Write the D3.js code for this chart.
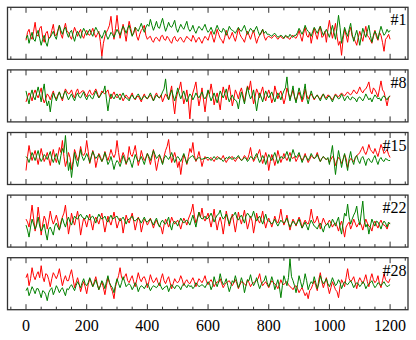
<!DOCTYPE html>
<html><head><meta charset="utf-8">
<script src="https://cdn.jsdelivr.net/npm/d3@7"></script>
<style>html,body{margin:0;padding:0;background:#fff;}svg{display:block;}</style>
</head><body>
<svg id="c" width="416" height="340"></svg>
<script>
const xStep = 5;
const panelLabels = ["#1", "#8", "#15", "#22", "#28"];
const xTickLabels = [0, 200, 400, 600, 800, 1000, 1200];

const red1 = [-7,1,4,-3,-6,2,11,-1,-3,5,7,-4,-9,0,2,-5,-4,3,9,-2,
-2,3,8,-1,-5,4,10,2,1,-3,-6,0,6,2,-3,1,4,-2,-5,0,
3,-1,-2,1,5,0,-4,-1,2,-8,-23,-10,-3,1,4,8,17,3,-6,5,
18,4,-5,2,9,1,-8,3,12,5,-2,0,6,-3,-7,-1,3,5,8,-2,
-6,-4,-3,-7,-9,-5,-4,-6,-8,-3,-2,-6,-7,-3,-5,-8,-10,-5,-3,-7,
-8,-5,-4,-7,-9,-6,-3,-5,-6,-8,-2,-5,-9,-6,-4,-7,-10,-6,-3,-5,
-7,-2,2,-4,-9,-3,4,-1,-5,-7,-10,-4,3,-2,-6,-3,1,-4,-8,-2,
5,-1,-4,-6,-9,-3,2,-2,-6,-1,3,-4,-10,-5,-2,0,4,-3,-7,-4,
-3,-4,-5,-3,-2,-4,-6,-4,-3,-5,-5,-3,-4,-5,-6,-3,-2,-4,-5,-2,
3,-3,-8,0,6,-2,-4,1,-10,-2,5,-1,-6,2,7,-4,-3,2,-9,4,
13,3,-5,2,10,-3,-12,-8,-22,-6,4,-2,-9,1,6,-3,-5,-8,-12,-4,
2,-3,-8,0,7,-2,-4,-7,-10,-2,3,-4,-7,1,-2,-9,-18,-6,-4,-1,-6];
const green1 = [-5,-2,-10,-4,1,-6,-8,-1,3,-5,-12,-6,-2,-9,-13,-5,-4,-1,2,-3,
-6,2,8,3,-1,4,6,0,-4,1,3,-3,-8,-2,2,-1,-5,1,5,2,
-2,1,4,0,-3,2,6,3,0,-2,-5,-1,3,-2,-6,-3,1,-1,-4,0,
4,1,-2,3,7,4,0,5,8,2,-3,1,6,4,2,6,10,5,1,6,
9,7,14,8,3,7,12,6,5,10,15,8,2,6,11,7,6,9,13,5,
1,5,9,6,4,8,12,5,2,4,8,3,0,4,7,5,3,6,9,4,
1,3,6,2,-1,4,8,4,2,1,5,3,-2,2,7,4,3,2,0,3,
6,3,2,5,8,3,-1,2,5,3,1,4,7,2,-2,1,4,0,2,-1,
-1,-2,-3,-1,0,-2,-4,-3,-2,-3,-5,-2,-3,-4,-1,-3,-4,-2,-2,1,
5,2,-1,3,8,4,2,0,-3,2,6,3,0,4,7,2,-2,1,4,0,
-4,2,8,1,-6,5,18,6,-10,-2,6,1,-3,4,10,-1,-8,-2,3,-4,
-12,-3,5,0,-4,2,8,-2,-9,-3,2,-1,-6,1,7,2,-2,0,4,1,3];

const red2 = [-6,-1,3,0,-5,2,6,1,-2,3,8,-2,-7,-3,2,0,-4,1,5,-1,
-3,1,4,-1,-5,2,7,4,2,3,6,1,-2,4,7,2,3,5,5,2,
-1,3,6,2,1,4,7,3,-2,1,5,3,2,4,6,0,-3,1,4,0,
-2,0,2,-1,-5,-2,1,-1,-3,0,3,-2,-4,-1,0,-3,-6,-1,2,-2,
-3,-1,1,-2,-5,0,3,-1,-2,1,-6,-2,2,-1,-4,3,10,-6,-18,-3,
4,7,14,2,-8,-2,6,-5,-23,-4,3,8,14,1,-10,-2,8,-4,-16,-3,
5,2,12,3,-9,-2,3,-5,-14,0,9,2,-4,4,11,1,-10,-3,6,2,
-3,4,8,1,-6,3,10,6,15,2,-8,-1,7,3,-2,4,9,0,-5,1,
6,1,-7,-2,10,4,-3,2,5,-1,-8,-2,8,3,-2,1,6,-1,-5,0,
4,-1,-6,-2,7,1,-3,0,2,-1,-4,-1,1,-2,-3,0,2,-1,-2,1,
0,-2,-4,-1,2,0,-1,1,3,1,0,2,4,2,1,3,6,4,2,5,
9,5,3,6,7,10,14,5,2,8,6,3,-1,7,15,6,4,-3,-10,-2,0];
const green2 = [5,-2,-8,1,6,-1,-4,3,9,2,-6,4,12,-3,-10,-5,-16,-4,3,-1,
-5,0,4,-1,-3,2,5,0,-4,-1,2,-2,-5,0,3,-1,-2,1,4,-1,
-4,0,1,-2,-3,1,5,1,-2,0,3,4,10,-3,-15,-4,2,-1,-3,0,
2,-1,-4,0,3,-1,-2,-3,-5,-1,1,-2,-3,0,2,-1,-4,-2,0,-1,
-3,0,3,-1,-5,-2,1,-1,-2,0,4,7,17,2,-4,1,6,0,-5,1,
8,2,-3,1,5,-1,-6,-2,2,0,-4,-1,3,0,-2,1,4,-1,-3,0,
6,0,-5,-1,3,-2,-7,-1,5,1,-2,2,7,-1,-6,-2,1,-3,-4,-6,
-13,-3,4,-2,-8,1,9,2,-3,0,6,-4,-15,-5,3,-1,-6,0,5,1,
-2,1,4,-1,-6,-1,3,0,-4,1,5,8,19,3,-5,2,10,-1,-7,1,
8,2,-4,3,12,-2,-8,-1,5,0,-3,-1,1,-2,-5,-1,2,-2,-4,-1,
0,-3,-6,-2,1,-1,-3,-2,2,-1,-5,-2,0,-3,-4,-1,-2,-3,-6,-2,
-1,-3,-5,-2,2,-1,-4,-2,-6,-2,1,-1,-3,-2,-5,-1,0,-2,-4,-1,0];

const red3 = [-12,2,13,4,-2,3,8,1,-6,2,10,3,-3,1,6,0,-7,2,9,1,
-4,3,11,6,18,2,-8,-2,6,1,-11,-3,9,4,-2,2,12,5,3,6,
18,7,-5,1,8,3,-9,-2,5,2,-3,0,7,2,-2,3,9,4,1,5,
18,6,-4,1,6,2,-6,0,12,4,2,7,13,3,-7,-1,8,2,-2,1,
5,0,-6,1,9,-2,-12,-4,3,0,-5,2,8,12,19,5,-4,1,6,0,
-9,-3,-16,-5,4,0,-6,2,10,6,16,3,-3,1,7,0,-8,-2,2,0,
-2,0,1,-1,-3,0,2,1,-1,0,3,-1,-4,-1,0,1,2,-1,-3,0,
1,0,-2,0,3,1,-1,4,11,2,-3,0,2,5,9,1,-5,0,6,1,
-12,-3,4,0,-7,-1,8,2,-4,0,5,1,-2,2,6,1,0,2,-3,0,
4,1,-2,1,5,0,-4,-1,3,1,0,2,6,1,-3,0,2,0,-1,0,
-4,-1,2,0,-7,-2,1,-1,-5,-1,4,0,-9,-3,0,-1,-3,0,3,4,
6,9,12,7,4,8,14,9,7,5,10,6,2,8,14,10,5,7,9,4,1];
const green3 = [2,0,-4,1,6,2,-2,3,8,1,-3,0,4,2,-1,3,7,0,-4,1,
5,-1,-6,3,10,6,23,4,-12,-4,-19,-6,6,-2,-8,1,9,2,-2,1,
5,1,-4,2,7,3,0,2,4,0,-3,1,6,0,-6,-3,2,-4,-11,-5,
-2,-4,-8,-3,3,-1,-5,-2,1,-4,-9,-2,4,0,-3,-1,2,-2,-6,0,
5,2,-2,3,8,4,0,2,4,-1,-6,0,3,1,-1,2,6,1,-4,0,
2,0,-3,1,5,0,-5,-1,1,2,3,0,-2,0,1,0,-1,0,0,1,
1,0,-2,0,2,0,-1,1,0,-1,-3,-1,1,0,2,0,-1,1,0,1,
3,0,-2,-1,1,0,-3,-1,2,1,-1,2,5,0,-4,-1,3,0,-6,-1,
4,1,-2,2,6,1,-5,-1,2,1,0,3,7,2,-3,3,9,4,1,3,
6,1,-4,0,3,1,-2,1,5,2,0,1,4,0,-3,0,2,0,-1,1,
-6,4,13,-2,-16,-3,8,0,-9,-1,5,-4,-12,0,7,-2,-6,1,3,-2,
-5,0,2,-2,-7,-1,0,-3,-4,0,3,-2,-6,-1,1,-2,-3,0,-1,-2,-2];

const red4 = [2,-1,-6,4,16,3,-10,-2,14,2,-14,-3,5,1,-8,0,10,2,-3,1,
6,0,-9,-1,4,8,16,2,-13,-4,8,1,-4,3,10,0,-14,-5,3,0,
-6,1,7,-2,-9,0,4,1,-3,3,8,-2,-11,-3,5,0,-4,2,9,1,
-7,-2,3,0,-12,-3,6,1,-2,3,8,0,-9,-2,4,0,-11,-4,2,0,
-4,-1,3,-2,-7,-2,1,-3,-5,-6,-13,-4,2,-1,-6,-2,4,0,-3,-1,
1,-3,-8,-2,3,0,-4,2,6,10,17,5,-2,3,9,4,13,3,0,4,
8,1,-6,2,12,0,-9,-1,4,-3,-13,-2,10,3,-5,1,7,-2,-11,-1,
9,2,-3,4,11,1,-8,-2,5,0,-12,-3,8,1,-2,3,10,0,-7,-1,
3,-1,-6,-1,5,0,-2,3,12,2,-4,0,6,-2,-9,-3,2,-1,-5,0,
4,0,-7,-2,1,-2,-3,2,12,3,-2,0,5,-1,-8,-2,3,-1,-4,-2,
1,-2,-6,-3,-2,-5,-10,-4,0,-7,-16,-6,-3,-1,-8,-4,2,-2,-6,-3,
-1,-4,-9,-3,2,-2,-5,-6,-10,-3,0,-4,-7,-2,1,-3,-4,-5,-8,-3,-2];
const green4 = [-4,-9,-16,-6,2,-3,-8,-4,4,-5,-10,-7,-3,-12,-19,-8,-6,-10,-14,-5,
-2,-6,-9,-3,3,-2,-6,0,4,-1,-4,1,5,3,2,5,7,4,3,2,
6,3,1,4,5,2,-2,3,7,4,2,3,5,1,-1,3,6,2,3,4,
5,2,0,2,4,1,-3,1,2,3,5,1,0,2,3,1,-2,1,4,0,
-1,1,2,-1,-4,0,3,-2,-6,-1,1,-2,-3,0,4,-4,-9,-2,0,-2,
-5,-1,3,0,-2,0,1,-1,-4,1,6,0,-6,2,9,4,2,3,5,2,
3,5,8,4,-1,3,6,7,11,5,2,4,7,2,-3,3,5,6,9,3,
1,4,6,2,-2,5,8,6,3,5,10,4,0,3,5,1,-3,2,7,1,
0,-1,-3,-1,2,-2,-5,-2,1,-1,-2,0,3,-2,-6,-3,0,-2,-4,-1,
2,-3,-7,-4,-1,-5,-9,-3,1,-2,-5,-6,-8,-4,-2,-7,-11,-5,-4,-2,
-7,-3,2,-1,-5,0,4,-6,-13,-2,8,5,17,4,-3,2,6,9,15,3,
-4,8,20,1,-6,-3,-13,-5,2,-2,-5,0,-1,-4,-8,-3,0,-2,-6,-1,-3];

const red5 = [6,10,-2,5,16,8,4,9,12,6,18,7,2,10,9,4,-3,5,11,8,
5,9,15,6,-2,4,8,3,3,9,14,5,-4,1,6,0,-8,-2,2,-3,
-10,-1,5,1,-3,2,7,0,-6,-2,2,-4,-11,-2,6,1,-4,-8,-15,-3,
3,8,16,6,4,7,10,3,1,5,8,2,-3,4,11,5,2,6,7,3,
-4,2,9,4,1,3,6,1,-2,5,10,3,0,4,7,1,-5,0,5,2,
1,3,8,4,-2,2,4,1,0,3,6,2,-3,1,5,3,1,4,8,2,
-1,2,4,1,-3,0,2,1,5,0,-4,-1,1,2,3,0,-2,1,4,0,
-5,-1,2,1,0,-2,4,1,-3,0,1,2,3,5,10,2,-2,0,2,-1,
-4,0,3,1,0,-2,-5,-1,4,0,-1,1,2,-1,-3,-4,-6,-3,-2,-5,
-9,-6,-4,-8,-12,-9,-15,-7,-5,-1,3,-2,-7,4,11,2,-4,1,6,-3,
-10,-4,2,-2,-6,-8,-14,-3,4,1,-3,6,15,5,2,4,7,1,-5,2,
6,3,0,4,9,2,-3,5,10,4,1,3,8,0,-4,3,10,4,2,1,5];
const green5 = [-7,-4,-12,-8,-3,-6,-10,-5,-5,-9,-14,-7,-8,-11,-17,-9,-6,-4,-11,-7,
-2,-5,-9,-6,-4,-8,-12,-5,-6,-3,-1,-4,-7,-2,2,-1,-4,1,5,0,
-2,1,6,2,-3,0,4,-1,-6,-2,3,0,-5,2,8,1,-2,-4,-9,-1,
5,0,-4,1,7,2,-3,-1,0,-2,-6,-3,1,-2,-8,-4,-2,-3,-5,-2,
0,-3,-7,-4,-2,-3,-4,-2,1,-3,-6,-4,-3,-2,-8,-4,-1,-3,-5,-2,
-2,-3,-6,-2,0,-2,-4,-1,-3,-2,-5,-3,1,-1,-3,-2,-1,-2,-4,-1,
2,0,-6,-2,7,1,-3,2,10,3,-1,1,5,-2,-8,-3,3,1,8,2,
-4,0,6,1,-9,-2,4,3,9,2,-2,1,6,0,-5,-1,2,3,8,1,
-3,1,7,2,-6,-1,4,-3,-14,-2,8,3,-2,6,25,7,3,-2,-9,-1,
8,2,-4,1,10,3,-6,-1,2,0,7,1,-5,0,8,3,0,2,5,0,
-3,1,6,2,-2,0,4,1,-5,-1,2,0,-1,1,3,0,-4,-1,1,0,
-3,-1,2,0,-5,-2,0,1,3,-1,-4,-2,1,0,-2,0,2,-1,-3,-2,-1];

const redSeries = [red1, red2, red3, red4, red5];
const greenSeries = [green1, green2, green3, green4, green5];

const left = 7.5, right = 408;
const panelTop0 = 7.3, panelStep = 62.6, panelH = 52;
const svg = d3.select("#c");
const x = d3.scaleLinear().domain([-61, 1259]).range([left, right]);
const minorTicks = d3.range(-50, 1260, 50);
const axisColor = "#333";

redSeries.forEach((red, i) => {
  const top = panelTop0 + i * panelStep;
  const y = d3.scaleLinear().domain([-26, 26]).range([top + panelH, top]);
  const g = svg.append("g");
  const line = d3.line().x((d, k) => x(k * xStep)).y(d => y(d));
  g.append("path").datum(red).attr("d", line).attr("fill", "none")
    .attr("stroke", "#ff0000").attr("stroke-width", 1);
  g.append("path").datum(greenSeries[i]).attr("d", line).attr("fill", "none")
    .attr("stroke", "#008000").attr("stroke-width", 1);
  minorTicks.forEach(t => {
    const len = (t % 200 === 0) ? 5.5 : 3;
    g.append("line").attr("x1", x(t)).attr("x2", x(t)).attr("y1", top).attr("y2", top + len)
      .attr("stroke", axisColor).attr("stroke-width", 1);
    g.append("line").attr("x1", x(t)).attr("x2", x(t)).attr("y1", top + panelH).attr("y2", top + panelH - len)
      .attr("stroke", axisColor).attr("stroke-width", 1);
  });
  g.append("rect").attr("x", left).attr("y", top).attr("width", right - left).attr("height", panelH)
    .attr("fill", "none").attr("stroke", axisColor).attr("stroke-width", 1.3);
  g.append("text").attr("x", right - 1.5).attr("y", top + 18).attr("text-anchor", "end")
    .attr("font-family", "'Liberation Serif', 'DejaVu Serif', serif").attr("font-size", 16)
    .attr("fill", "#000").text(panelLabels[i]);
});

const lastBottom = panelTop0 + 4 * panelStep + panelH;
svg.append("g").selectAll("text").data(xTickLabels).join("text")
  .attr("x", d => x(d)).attr("y", lastBottom + 21.5).attr("text-anchor", "middle")
  .attr("font-family", "'Liberation Serif', 'DejaVu Serif', serif").attr("font-size", 16)
  .attr("fill", "#000").text(d => d);
</script>
</body></html>
